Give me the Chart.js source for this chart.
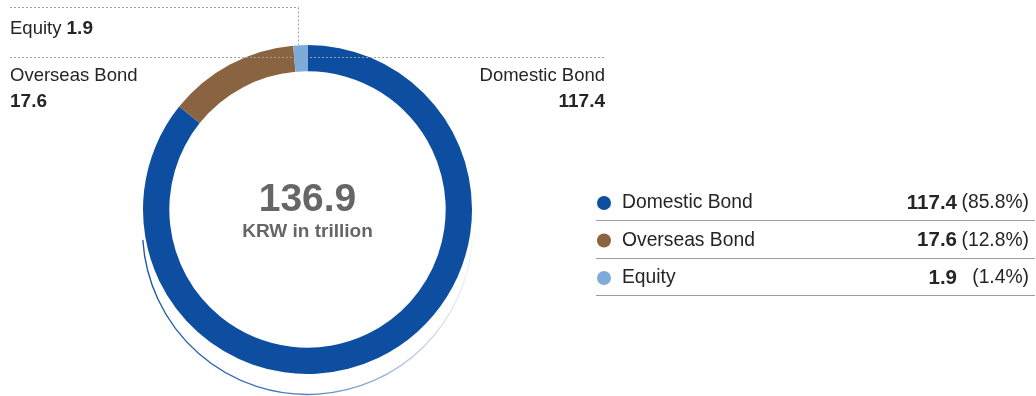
<!DOCTYPE html>
<html>
<head>
<meta charset="utf-8">
<script src="https://cdn.jsdelivr.net/npm/chart.js@4/dist/chart.umd.min.js"></script>
<style>
  html, body { margin: 0; padding: 0; background: #fff; overflow: hidden; }
  #wrap { position: relative; width: 1036px; height: 396px; }
</style>
</head>
<body>
<div id="wrap"><canvas id="c" width="1036" height="396"></canvas></div>
<script>
// Portfolio composition (KRW in trillion)
const categories = ['Domestic Bond', 'Overseas Bond', 'Equity'];
const values = [117.4, 17.6, 1.9];
const shareLabels = ['(85.8%)', '(12.8%)', '(1.4%)'];
const unitLabel = 'KRW in trillion';

const sliceColors = ['#0d4ea1', '#8a6440', '#7eabd9'];
const FONT = '"Liberation Sans", Arial, Helvetica, sans-serif';
const TEXT = '#252525';

const total = values.reduce((a, b) => a + b, 0);

// Thin offset ring under the doughnut, fading out to the right
const shadowRing = {
  id: 'shadowRing',
  beforeDatasetsDraw(chart) {
    const arc = chart.getDatasetMeta(0).data[0];
    if (!arc) return;
    const { x, y, outerRadius } = arc;
    const ctx = chart.ctx;
    ctx.save();
    const g = ctx.createLinearGradient(x - outerRadius, 0, x + outerRadius, 0);
    g.addColorStop(0, 'rgba(22,84,168,1)');
    g.addColorStop(0.5, 'rgba(22,84,168,0.75)');
    g.addColorStop(1, 'rgba(22,84,168,0.06)');
    ctx.strokeStyle = g;
    ctx.lineWidth = 1.3;
    ctx.beginPath();
    ctx.arc(x, y + 20, outerRadius + 0.5, Math.PI * 0.98, Math.PI * 0.02, true);
    ctx.stroke();
    ctx.restore();
  }
};

// Callouts, centre total and the side table
const annotations = {
  id: 'annotations',
  afterDraw(chart) {
    const ctx = chart.ctx;
    const arc = chart.getDatasetMeta(0).data[0];
    ctx.save();

    // dotted leader lines
    ctx.strokeStyle = '#a0a0a0';
    ctx.lineWidth = 1;
    ctx.setLineDash([2, 2]);
    ctx.beginPath();
    ctx.moveTo(10, 7.5); ctx.lineTo(298.5, 7.5);
    ctx.moveTo(298.5, 7.5); ctx.lineTo(298.5, 45);
    ctx.moveTo(10, 57.5); ctx.lineTo(605, 57.5);
    ctx.stroke();
    ctx.setLineDash([]);

    // callout labels
    ctx.fillStyle = TEXT;
    ctx.textBaseline = 'alphabetic';
    ctx.textAlign = 'left';
    ctx.font = '18.5px ' + FONT;
    ctx.fillText(categories[2], 10, 34);
    const w = ctx.measureText(categories[2] + ' ').width;
    ctx.font = 'bold 19px ' + FONT;
    ctx.fillText(values[2].toFixed(1), 10 + w, 34);

    ctx.font = '18.5px ' + FONT;
    ctx.fillText(categories[1], 10, 81);
    ctx.font = 'bold 19px ' + FONT;
    ctx.fillText(values[1].toFixed(1), 10, 107);

    ctx.textAlign = 'right';
    ctx.font = '18.5px ' + FONT;
    ctx.fillText(categories[0], 605, 81);
    ctx.font = 'bold 19px ' + FONT;
    ctx.fillText(values[0].toFixed(1), 605, 107);

    // centre total
    ctx.textAlign = 'center';
    ctx.fillStyle = '#666666';
    ctx.font = 'bold 39px ' + FONT;
    ctx.fillText(total.toFixed(1), arc.x, 211);
    ctx.font = 'bold 19px ' + FONT;
    ctx.fillText(unitLabel, arc.x, 237);

    // side table
    const rowY = [203, 240.5, 278];
    const sepY = [220.5, 258.5, 295.5];
    ctx.textBaseline = 'middle';
    categories.forEach((name, i) => {
      ctx.fillStyle = sliceColors[i];
      ctx.beginPath();
      ctx.arc(604, rowY[i], 7, 0, Math.PI * 2);
      ctx.fill();

      ctx.fillStyle = TEXT;
      ctx.textAlign = 'left';
      ctx.font = '19.3px ' + FONT;
      ctx.fillText(name, 622, rowY[i]);

      ctx.textAlign = 'right';
      ctx.font = 'bold 20.5px ' + FONT;
      ctx.fillText(values[i].toFixed(1), 957, rowY[i]);
      ctx.font = '19.3px ' + FONT;
      ctx.fillText(shareLabels[i], 1029, rowY[i]);

      ctx.strokeStyle = '#9c9c9c';
      ctx.lineWidth = 1.2;
      ctx.beginPath();
      ctx.moveTo(596, sepY[i]); ctx.lineTo(1035, sepY[i]);
      ctx.stroke();
    });

    ctx.restore();
  }
};

new Chart(document.getElementById('c'), {
  type: 'doughnut',
  data: {
    labels: categories,
    datasets: [{
      data: values,
      backgroundColor: sliceColors,
      borderWidth: 0,
      offset: 0,
      hoverOffset: 0
    }]
  },
  options: {
    responsive: false,
    animation: false,
    events: [],
    cutout: '84%',
    rotation: 0,
    layout: { padding: { left: 143, right: 564, top: 45, bottom: 22 } },
    plugins: { legend: { display: false }, tooltip: { enabled: false } }
  },
  plugins: [shadowRing, annotations]
});
</script>
</body>
</html>
